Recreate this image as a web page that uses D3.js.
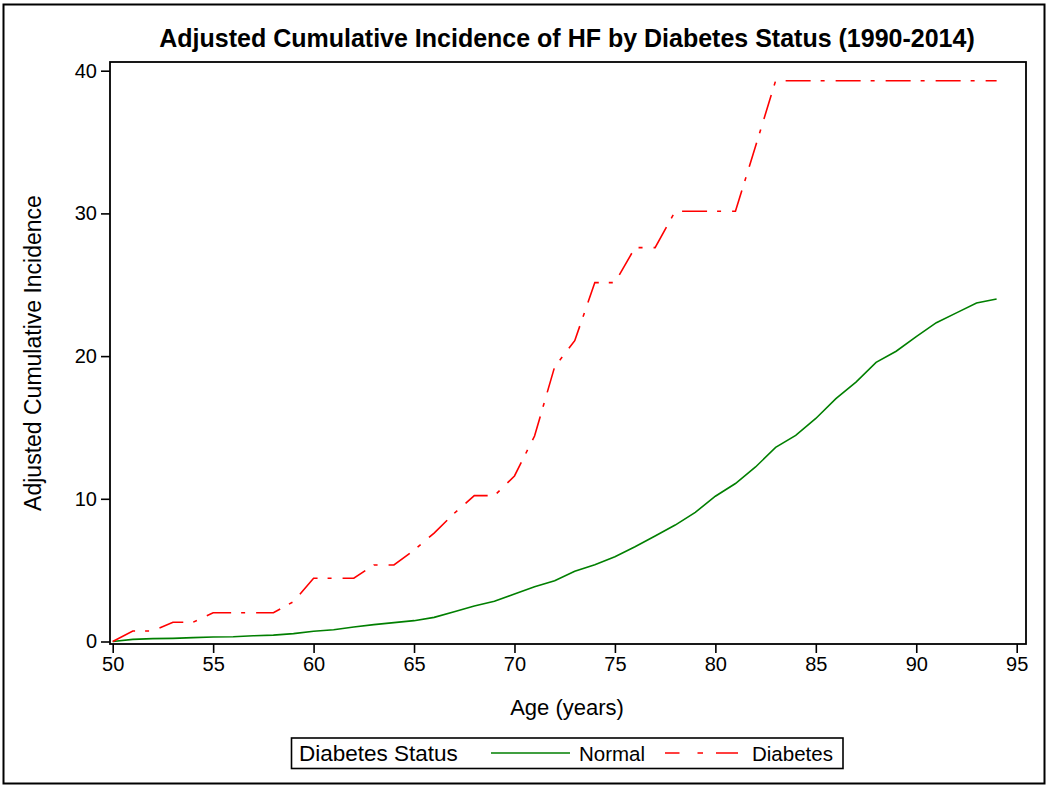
<!DOCTYPE html>
<html>
<head>
<meta charset="utf-8">
<script src="https://cdn.jsdelivr.net/npm/d3@7"></script>
<style>
  html, body { margin: 0; padding: 0; background: #fff; }
  svg { display: block; }
  text { font-family: "Liberation Sans", Arial, sans-serif; fill: #000; }
</style>
</head>
<body>
<svg id="chart" width="1050" height="789"></svg>
<script>
// ---- data ----
const ages = [50,51,52,53,54,55,56,57,58,59,60,61,62,63,64,65,66,67,68,69,70,71,72,73,74,75,76,77,78,79,80,81,82,83,84,85,86,87,88,89,90,91,92,93,94];
const normalValues = [0,0.15,0.2,0.22,0.27,0.32,0.33,0.4,0.45,0.55,
  0.72,0.82,1.02,1.18,1.32,1.46,1.69,2.09,2.49,2.82,
  3.33,3.84,4.26,4.92,5.38,5.94,6.64,7.39,8.16,9.05,
  10.18,11.07,12.23,13.6,14.44,15.63,17.02,18.18,19.56,20.34,
  21.37,22.34,23.03,23.72,24.0];
const diabetesValues = [0,0.74,0.74,1.35,1.35,2.02,2.02,2.02,2.02,2.79,
  4.43,4.43,4.43,5.36,5.36,6.4,7.6,8.98,10.22,10.22,
  11.6,14.4,19.25,21.08,25.15,25.15,27.6,27.6,30.15,30.15,
  30.15,30.15,34.7,39.3,39.3,39.3,39.3,39.3,39.3,39.3,
  39.3,39.3,39.3,39.3,39.3];
const xTicks = [50,55,60,65,70,75,80,85,90,95];
const yTicks = [0,10,20,30,40];
const seriesNames = ["Normal","Diabetes"];
const titleText = "Adjusted Cumulative Incidence of HF by Diabetes Status (1990-2014)";
const xLabel = "Age (years)";
const yLabel = "Adjusted Cumulative Incidence";
const legendTitle = "Diabetes Status";

// ---- layout ----
const svg = d3.select("#chart");
const frame = {left: 110, right: 1026, top: 62, bottom: 644};
const x = d3.scaleLinear().domain([50, 95]).range([112.7, 1016.7]);
const y = d3.scaleLinear().domain([0, 40]).range([641.5, 70.7]);

const colors = {Normal: "#007f00", Diabetes: "#ff0000"};
const dashes = {Normal: null, Diabetes: "25,10,4,11"};

// outer border
svg.append("rect").attr("x", 3.5).attr("y", 4.5).attr("width", 1041).attr("height", 779)
  .attr("fill", "none").attr("stroke", "#000").attr("stroke-width", 2);

// title
svg.append("text").attr("x", 567).attr("y", 47).attr("text-anchor", "middle")
  .style("font-size", "25px").style("font-weight", "bold").text(titleText);

// lines
const line = d3.line().x(d => x(d[0])).y(d => y(d[1]));
const seriesData = {
  Normal: ages.map((a, i) => [a, normalValues[i]]),
  Diabetes: ages.map((a, i) => [a, diabetesValues[i]])
};
seriesNames.forEach(name => {
  svg.append("path").datum(seriesData[name])
    .attr("d", line).attr("fill", "none")
    .attr("stroke", colors[name]).attr("stroke-width", 1.6)
    .attr("stroke-dasharray", dashes[name]);
});

// frame
svg.append("rect").attr("x", frame.left).attr("y", frame.top)
  .attr("width", frame.right - frame.left).attr("height", frame.bottom - frame.top)
  .attr("fill", "none").attr("stroke", "#000").attr("stroke-width", 1.8);

// x axis
const xAxis = d3.axisBottom(x).tickValues(xTicks).tickSize(9).tickPadding(4).tickFormat(d3.format("d"));
const gx = svg.append("g").attr("transform", `translate(0,${frame.bottom})`).call(xAxis);
gx.select(".domain").remove();
gx.selectAll(".tick line").attr("stroke", "#000").attr("stroke-width", 1.6);
gx.selectAll(".tick text").style("font-size", "20px").attr("font-family", "Liberation Sans, Arial, sans-serif");

// y axis
const yAxis = d3.axisLeft(y).tickValues(yTicks).tickSize(9).tickPadding(4).tickFormat(d3.format("d"));
const gy = svg.append("g").attr("transform", `translate(${frame.left},0)`).call(yAxis);
gy.select(".domain").remove();
gy.selectAll(".tick line").attr("stroke", "#000").attr("stroke-width", 1.6);
gy.selectAll(".tick text").style("font-size", "20px").attr("font-family", "Liberation Sans, Arial, sans-serif");

// axis labels
svg.append("text").attr("x", 567).attr("y", 715).attr("text-anchor", "middle")
  .style("font-size", "22px").text(xLabel);
svg.append("text").attr("transform", "translate(41,353) rotate(-90)").attr("text-anchor", "middle")
  .style("font-size", "23px").text(yLabel);

// legend
const lg = svg.append("g");
lg.append("rect").attr("x", 291.5).attr("y", 738).attr("width", 551.5).attr("height", 30.5)
  .attr("fill", "none").attr("stroke", "#000").attr("stroke-width", 1.6);
lg.append("text").attr("x", 299).attr("y", 761).style("font-size", "22.5px").text(legendTitle);
const legendItems = [
  {name: "Normal", x1: 491, x2: 570, tx: 579},
  {name: "Diabetes", x1: 665, x2: 738, tx: 752}
];
legendItems.forEach(it => {
  lg.append("line").attr("x1", it.x1).attr("x2", it.x2).attr("y1", 753).attr("y2", 753)
    .attr("stroke", colors[it.name]).attr("stroke-width", 1.6)
    .attr("stroke-dasharray", it.name === "Diabetes" ? "14.5,18,5.5,13,22" : null);
  lg.append("text").attr("x", it.tx).attr("y", 761).style("font-size", "20.5px").text(it.name);
});
</script>
</body>
</html>
